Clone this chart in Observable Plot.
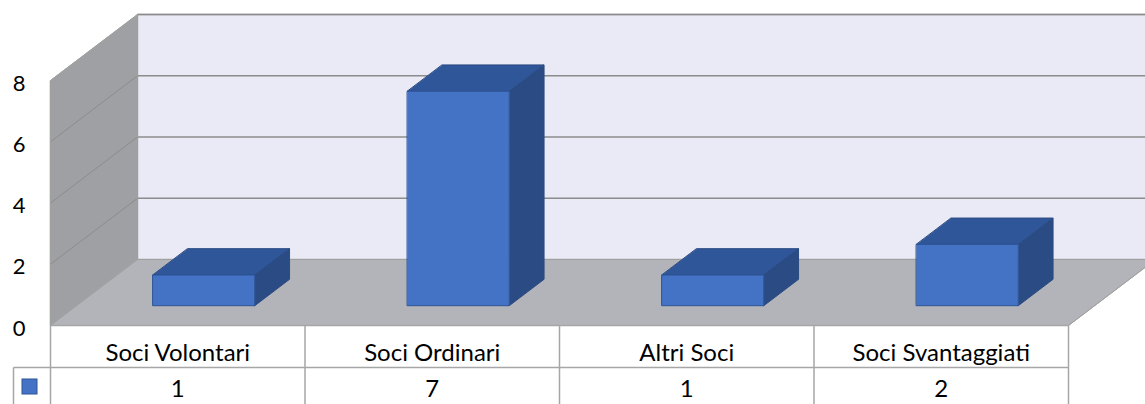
<!DOCTYPE html>
<html><head><meta charset="utf-8">
<script src="https://cdn.jsdelivr.net/npm/d3@7"></script>
<script src="https://cdn.jsdelivr.net/npm/@observablehq/plot@0.6"></script>
<style>body{margin:0;background:#fff;overflow:hidden}</style>
</head><body><div id="chart"></div>
<script>
// ---- data ----
const categories = ["Soci Volontari", "Soci Ordinari", "Altri Soci", "Soci Svantaggiati"];
const values = [1, 7, 1, 2];
const yTicks = [0, 2, 4, 6, 8];

// ---- layout ----
const W = 1145, H = 404;
const xDomain = [0, categories.length], yDomain = [0, 8];
const xRange = [50, 1068], yRange = [325, 80];
const xs = Plot.scale({x: {type: "linear", domain: xDomain, range: xRange}});
const ys = Plot.scale({y: {type: "linear", domain: yDomain, range: yRange}});
// oblique depth projection: full depth moves 87px right and 66px up
const DU = 87 / (xs.apply(1) - xs.apply(0));
const DV = 66 / (ys.apply(0) - ys.apply(1));
const P = (u, z, v) => ({x: u + z * DU, y: v + z * DV});

const polys = [];
function poly(kind, id, pts) { pts.forEach(p => polys.push({kind, id, ...P(...p)})); }
const N = categories.length, VMAX = yDomain[1];
poly("back", "back", [[0,1,0],[N,1,0],[N,1,VMAX],[0,1,VMAX]]);
poly("left", "left", [[0,0,0],[0,1,0],[0,1,VMAX],[0,0,VMAX]]);
poly("floor", "floor", [[0,0,0],[N,0,0],[N,1,0],[0,1,0]]);
const bw0 = 0.3, bw1 = 0.7, z0 = 0.3, z1 = 0.7;
values.forEach((v, i) => {
  const u0 = i + bw0, u1 = i + bw1;
  poly("side", "s" + i, [[u1,z0,0],[u1,z1,0],[u1,z1,v],[u1,z0,v]]);
  poly("top", "t" + i, [[u0,z0,v],[u1,z0,v],[u1,z1,v],[u0,z1,v]]);
  poly("front", "f" + i, [[u0,z0,0],[u1,z0,0],[u1,z0,v],[u0,z0,v]]);
});

// grid lines
const backGrid = yTicks.filter(t => t > 0).map(t => ({a: P(0,1,t), b: P(N,1,t)}));
const leftGrid = yTicks.filter(t => t > 0 && t < VMAX).map(t => ({a: P(0,0,t), b: P(0,1,t)}));
const edges = [
  {a: P(0,0,0), b: P(0,1,0)}, {a: P(0,1,0), b: P(N,1,0)}, {a: P(0,1,0), b: P(0,1,VMAX)},
  {a: P(0,0,0), b: P(0,0,VMAX)}, {a: P(0,0,VMAX), b: P(0,1,VMAX)}, {a: P(N,0,0), b: P(N,1,0)}
];

// table geometry
const yHdr = ys.invert(367), yBot = ys.invert(404);
const xLeg = xs.invert(13);
const tableLines = [
  {a: {x: 0, y: 0}, b: {x: N, y: 0}},
  {a: {x: xLeg, y: yHdr}, b: {x: N, y: yHdr}},
  {a: {x: xLeg, y: yHdr}, b: {x: xLeg, y: yBot}},
  ...d3.range(N + 1).map(i => ({a: {x: i, y: 0}, b: {x: i, y: yBot}}))
];

const link = (data, opts) => Plot.link(data, {x1: d => d.a.x, y1: d => d.a.y, x2: d => d.b.x, y2: d => d.b.y, ...opts});
const face = (kind, fill, stroke, sw = 1) => Plot.line(polys, {filter: d => d.kind === kind, x: "x", y: "y", z: "id", fill, stroke, strokeWidth: sw, curve: "linear-closed"});

const chart = Plot.plot({
  width: W, height: H,
  x: {type: "linear", domain: xDomain, range: xRange, axis: null},
  y: {type: "linear", domain: yDomain, range: yRange, axis: null},
  style: {overflow: "hidden", fontFamily: "Lato, 'Open Sans', sans-serif", background: "#fff", color: "#000"},
  marks: [
    face("back", "#e9eaf5", "#a6a6a6", 1.5),
    face("left", "#9fa0a4", "#a6a6a6", 1),
    face("floor", "#b3b4b9", "#a6a6a6", 1),
    link(backGrid, {stroke: "#8c8c8c", strokeWidth: 1.5}),
    link(leftGrid, {stroke: "#8c8c8c", strokeWidth: 1}),
    link(edges, {stroke: "#a0a0a0", strokeWidth: 1}),
    face("side", "#2b4b84", "#2a4a80", 1),
    face("top", "#30569a", "#2a4a80", 1),
    face("front", "#4472c4", "#2f5597", 1),
    link(tableLines, {stroke: "#a6a6a6", strokeWidth: 1.5}),
    Plot.text(yTicks, {x: 0, y: d => d, text: d => String(d), textAnchor: "end", dx: -25, dy: 3, fontSize: 22, fill: "#000"}),
    Plot.text(categories, {x: (d, i) => i + 0.5, y: ys.invert(353), text: d => d, fontSize: 24, fill: "#000"}),
    Plot.text(values, {x: (d, i) => i + 0.5, y: ys.invert(389), text: d => String(d), fontSize: 24, fill: "#000"}),
    Plot.rect([0], {x1: xs.invert(22), x2: xs.invert(37), y1: ys.invert(379), y2: ys.invert(394), fill: "#4472c4", stroke: "#2f5597", strokeWidth: 1})
  ]
});
document.getElementById("chart").appendChild(chart);
</script>
</body></html>
